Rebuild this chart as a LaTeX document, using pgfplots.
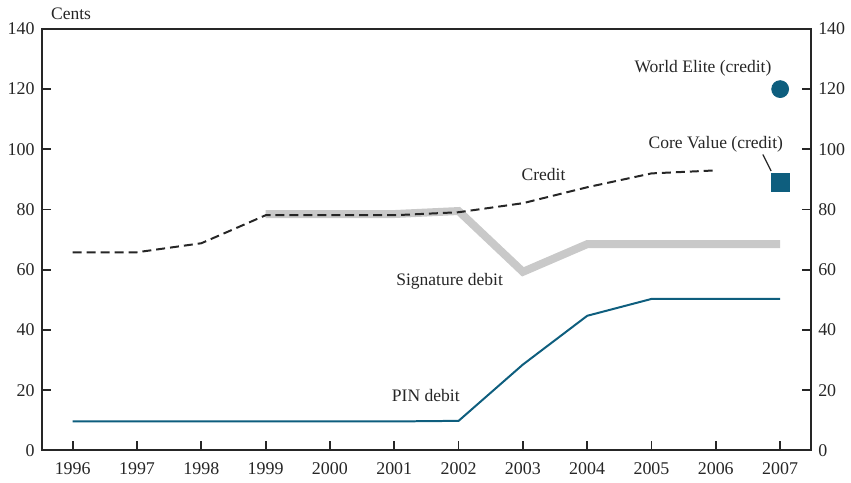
\documentclass[border=0pt]{standalone}
\usepackage{pgfplots}
\pgfplotsset{compat=1.18}
\usepackage{fontspec}
\setmainfont{Liberation Serif}
\definecolor{pinblue}{HTML}{0E5E7E}
\definecolor{siggray}{HTML}{C9C9C9}
\begin{document}
\fontsize{8.8}{10}\selectfont
\begin{tikzpicture}
\pgfplotsset{
  common/.style={
    scale only axis, width=386pt, height=211.5pt,
    xmin=1995.52, xmax=2007.48, ymin=0, ymax=140,
    ytick={0,20,...,140},
    /pgf/number format/assume math mode=true,
    tick style={line width=0.9pt, black!85},
    axis line style={line width=0.9pt, black!85},
    major tick length=4.5pt,
    tick align=inside,
    every tick label/.append style={font=\fontsize{9}{10}\selectfont, text=black!85},
    clip=false,
  }
}
\begin{axis}[common,
  xtick={1996,...,2007},
  xticklabel style={/pgf/number format/1000 sep={}},
  xtick pos=bottom,
  ytick pos=left,
  yticklabel style={xshift=-0.5pt},
  xticklabel style={yshift=-3pt},
]
\addplot[siggray, line width=4pt, line join=miter] coordinates {
(1999,78.5) (2000,78.5) (2001,78.5) (2002,79.5) (2003,59.3) (2004,68.5) (2005,68.5) (2006,68.5) (2007,68.5)};
\addplot[black!85, line width=1pt, dash pattern=on 4.5pt off 2.5pt] coordinates {
(1996,65.8) (1997,65.8) (1998,68.8) (1999,78.1) (2000,78.1) (2001,78.1) (2002,79.1) (2003,82.1) (2004,87.4) (2005,92.0) (2006,93.0)};
\addplot[pinblue, line width=1pt] coordinates {
(1996,9.6) (1997,9.6) (1998,9.6) (1999,9.6) (2000,9.6) (2001,9.6) (2002,9.8) (2003,28.5) (2004,44.7) (2005,50.3) (2006,50.3) (2007,50.3)};
\addplot[only marks, mark=*, mark size=4.25pt, pinblue] coordinates {(2007,120)};
\addplot[only marks, mark=square*, mark size=4.5pt, pinblue] coordinates {(2007,89.1)};
\draw[black!85, line width=0.6pt] (axis cs:2006.73,98.3) -- (axis cs:2006.86,92.8);
\node[text=black!85] at (axis cs:2005.8,127) {World Elite (credit)};
\node[text=black!85] at (axis cs:2006.0,101.6) {Core Value (credit)};
\node[text=black!85] at (axis cs:2003.32,91.7) {Credit};
\node[text=black!85] at (axis cs:2001.86,56) {Signature debit};
\node[text=black!85] at (axis cs:2001.49,18.2) {PIN debit};
\node[text=black!85, anchor=base west] at ([shift={(1.5pt,4.5pt)}]rel axis cs:0,1) {Cents};
\end{axis}
\begin{axis}[common,
  axis x line=none,
  axis y line*=right,
  ytick pos=right,
  yticklabel pos=right,
  yticklabel style={xshift=0.5pt},
]
\addplot[draw=none] coordinates {(2000,0)};
\end{axis}
\path ([shift={(-21pt,-16pt)}]current axis.south west) rectangle ([shift={(18.5pt,14.5pt)}]current axis.north east);
\end{tikzpicture}
\end{document}
